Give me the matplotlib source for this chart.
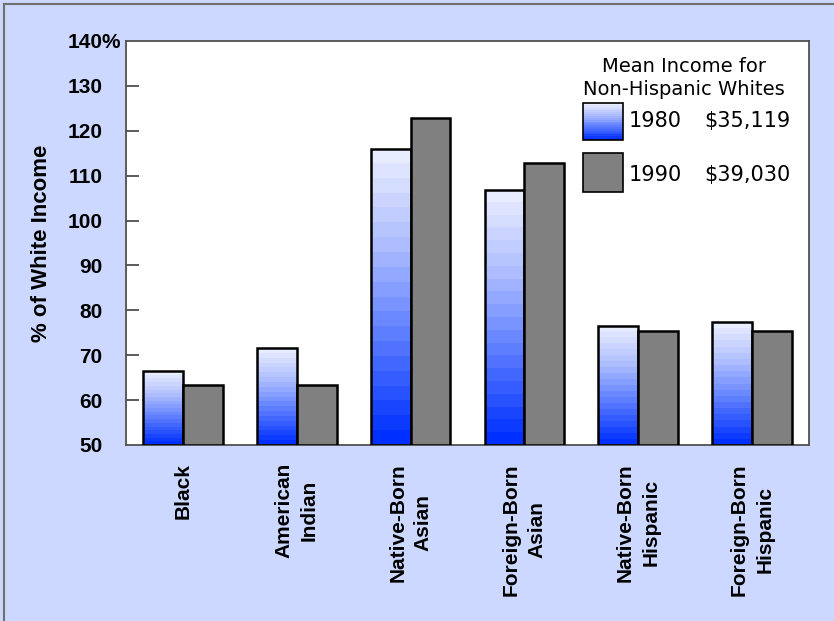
import numpy as np
import matplotlib
matplotlib.use("Agg")
import matplotlib.pyplot as plt
from matplotlib.colors import LinearSegmentedColormap
from matplotlib.patches import Rectangle
from matplotlib.lines import Line2D
from matplotlib.transforms import ScaledTranslation

# ---- data ----
categories = ["Black", "American\nIndian", "Native-Born\nAsian",
              "Foreign-Born\nAsian", "Native-Born\nHispanic", "Foreign-Born\nHispanic"]
values_1980 = [66.4, 71.6, 116.0, 106.9, 76.6, 77.4]
values_1990 = [63.4, 63.4, 122.8, 112.9, 75.4, 75.4]
series_years = ["1980", "1990"]
mean_income = ["$35,119", "$39,030"]
legend_title = "Mean Income for\nNon-Hispanic Whites"
y_ticks = [50, 60, 70, 80, 90, 100, 110, 120, 130, 140]
y_label = "% of White Income"

BG = "#ccd8ff"
GRAY = "#808080"
cmap = LinearSegmentedColormap.from_list("bl", ["#0030ff", "#5577ff", "#aabbff", "#e8ecff"])
NBANDS = 20
grad = np.linspace(0, 1, NBANDS).reshape(-1, 1)  # bottom -> top

fig = plt.figure(figsize=(8.34, 6.21), dpi=100, facecolor=BG)
ax = fig.add_axes([126/834, (621-445)/621, (809-126)/834, (445-41)/621])
ax.set_facecolor("white")

n = len(categories)
x = np.arange(n) + 0.5
w = 0.35
ymin, ymax = 50, 140

for xi, v in zip(x - w/2, values_1980):
    rect = Rectangle((xi - w/2, ymin), w, v - ymin, facecolor="none",
                     edgecolor="black", linewidth=1.8, zorder=3)
    ax.add_patch(rect)
    im = ax.imshow(grad, cmap=cmap, origin="lower", aspect="auto",
                   interpolation="nearest",
                   extent=(xi - w/2, xi + w/2, ymin, v), zorder=2)
    im.set_clip_path(rect)

ax.bar(x + w/2, [v - ymin for v in values_1990], width=w, bottom=ymin,
       color=GRAY, edgecolor="black", linewidth=1.8, zorder=3)

ax.set_xlim(0, n)
ax.set_ylim(ymin, ymax)

ax.set_yticks(y_ticks)
labels = [str(t) for t in y_ticks]
labels[-1] = "140%"
ax.set_yticklabels(labels, fontsize=15, fontweight="bold", family="Liberation Sans")
ax.tick_params(axis="y", direction="in", length=9, width=1.2, color="#404040", pad=17)
for t in ax.get_yticklines()[::2][-1:] + ax.get_yticklines()[::2][:1]:
    t.set_visible(False)
lab140 = ax.get_yticklabels()[-1]
lab140.set_transform(lab140.get_transform() + ScaledTranslation(19/100, 0, fig.dpi_scale_trans))

ax.set_xticks(x)
ax.set_xticklabels(categories, rotation=90, fontsize=15, fontweight="bold",
                   family="Liberation Sans", va="top", ha="center", linespacing=1.45)
ax.tick_params(axis="x", length=0, pad=13)

ax.set_ylabel(y_label, fontsize=16, fontweight="bold", family="Liberation Sans")
ax.yaxis.set_label_coords(-0.108, 0.5)

for s in ax.spines.values():
    s.set_color("#505050")
    s.set_linewidth(1.3)

# legend (manual)
def fx(px):
    return (px - 126) / 683
def fy(py):
    return (445 - py) / 404

ax.text(fx(684), fy(78), legend_title, transform=ax.transAxes, ha="center", va="center",
        fontsize=14, family="DejaVu Sans", linespacing=1.25)
sw1 = Rectangle((fx(583), fy(140)), fx(623) - fx(583), fy(103) - fy(140),
                transform=ax.transAxes, facecolor="none", edgecolor="black", linewidth=1.2, zorder=5)
ax.add_patch(sw1)
im = ax.imshow(grad, cmap=cmap, origin="lower", aspect="auto", interpolation="nearest",
               extent=(fx(583), fx(623), fy(140), fy(103)), transform=ax.transAxes, zorder=4)
im.set_clip_path(sw1)
ax.add_patch(Rectangle((fx(583), fy(192)), fx(623) - fx(583), fy(153) - fy(192),
                       transform=ax.transAxes, facecolor=GRAY, edgecolor="black",
                       linewidth=1.2, zorder=5))
for yy, yr, inc in [(121, series_years[0], mean_income[0]), (175, series_years[1], mean_income[1])]:
    ax.text(fx(629), fy(yy), yr, transform=ax.transAxes, ha="left", va="center",
            fontsize=15, family="DejaVu Sans")
    ax.text(fx(791), fy(yy), inc, transform=ax.transAxes, ha="right", va="center",
            fontsize=15, family="DejaVu Sans")

# figure frame lines (top and left)
fig.add_artist(Line2D([4/834, 1], [1 - 4/621, 1 - 4/621], transform=fig.transFigure,
                      color="#707070", linewidth=1.5))
fig.add_artist(Line2D([4/834, 4/834], [0, 1 - 4/621], transform=fig.transFigure,
                      color="#707070", linewidth=1.5))

fig.savefig("out.png", dpi=100, facecolor=BG)
